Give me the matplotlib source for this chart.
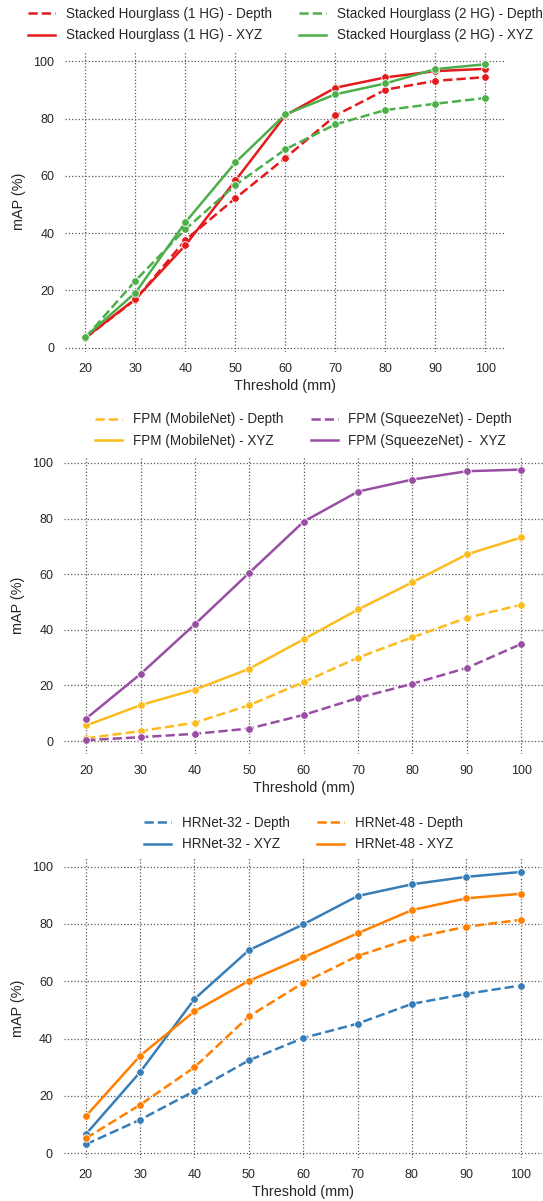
import numpy as np
import matplotlib
matplotlib.use('Agg')
import matplotlib.pyplot as plt
from matplotlib.lines import Line2D

plt.rcParams['font.family'] = ['Liberation Sans', 'DejaVu Sans']
plt.rcParams['text.color'] = '.15'
plt.rcParams['axes.labelcolor'] = '.15'
plt.rcParams['xtick.color'] = '.15'
plt.rcParams['ytick.color'] = '.15'

thresholds = [20, 30, 40, 50, 60, 70, 80, 90, 100]

# panel 1 - stacked hourglass
hg1_depth = [3.4, 16.8, 37.6, 52.2, 66.3, 81.1, 90.1, 93.2, 94.5]
hg1_xyz = [3.5, 17.0, 35.8, 58.4, 81.2, 90.8, 94.4, 96.6, 97.4]
hg2_depth = [3.5, 23.4, 41.4, 56.8, 69.3, 78.0, 83.0, 85.2, 87.2]
hg2_xyz = [3.8, 19.2, 43.8, 64.7, 81.5, 88.5, 92.3, 97.3, 99.0]

# panel 2 - FPM
mob_depth = [1.0, 3.6, 6.6, 12.9, 21.2, 30.0, 37.3, 44.3, 49.0]
mob_xyz = [5.6, 12.9, 18.5, 26.0, 36.6, 47.3, 57.1, 67.1, 73.2]
sqz_depth = [0.3, 1.4, 2.6, 4.5, 9.4, 15.5, 20.6, 26.3, 34.9]
sqz_xyz = [8.1, 24.1, 42.0, 60.5, 78.9, 89.7, 94.0, 97.0, 97.6]

# panel 3 - HRNet
hr32_depth = [3.1, 11.7, 21.7, 32.4, 40.2, 45.2, 52.1, 55.6, 58.5]
hr32_xyz = [6.6, 28.3, 53.8, 70.8, 79.8, 89.7, 93.8, 96.4, 98.1]
hr48_depth = [5.2, 16.9, 30.0, 47.7, 59.4, 68.8, 75.0, 79.0, 81.4]
hr48_xyz = [12.9, 34.0, 49.5, 60.1, 68.3, 76.7, 84.8, 88.9, 90.5]

panels = [
    {'rect': [0.1206, 0.7073, 0.8103, 0.2506], 'leg_y': 0.9999,
     'series': [(hg1_depth, '#e41a1c', '--', 'Stacked Hourglass (1 HG) - Depth'),
                (hg1_xyz, '#e41a1c', '-', 'Stacked Hourglass (1 HG) - XYZ'),
                (hg2_depth, '#4daf4a', '--', 'Stacked Hourglass (2 HG) - Depth'),
                (hg2_xyz, '#4daf4a', '-', 'Stacked Hourglass (2 HG) - XYZ')]},
    {'rect': [0.1186, 0.3724, 0.8814, 0.2479], 'leg_y': 0.6622,
     'series': [(mob_depth, '#fbbc1f', '--', 'FPM (MobileNet) - Depth'),
                (mob_xyz, '#fbbc1f', '-', 'FPM (MobileNet) - XYZ'),
                (sqz_depth, '#984ea3', '--', 'FPM (SqueezeNet) - Depth'),
                (sqz_xyz, '#984ea3', '-', 'FPM (SqueezeNet) -  XYZ')]},
    {'rect': [0.1179, 0.0358, 0.8808, 0.2495], 'leg_y': 0.3263,
     'series': [(hr32_depth, '#377eb8', '--', 'HRNet-32 - Depth'),
                (hr32_xyz, '#377eb8', '-', 'HRNet-32 - XYZ'),
                (hr48_depth, '#ff7f00', '--', 'HRNet-48 - Depth'),
                (hr48_xyz, '#ff7f00', '-', 'HRNet-48 - XYZ')]},
]

fig = plt.figure(figsize=(5.43, 12.01), dpi=100)

for p in panels:
    ax = fig.add_axes(p['rect'])
    handles = []
    for vals, col, ls, lab in p['series']:
        ax.plot(thresholds, vals, color=col, linestyle=ls, linewidth=1.8,
                marker='o', markersize=5.5, markeredgecolor='white',
                markeredgewidth=0.6)
        # legend shows line only, no marker
        handles.append(Line2D([], [], color=col, linestyle=ls, linewidth=1.8, label=lab))
    ax.set_xticks(thresholds)
    ax.set_yticks([0, 20, 40, 60, 80, 100])
    ax.grid(True, linestyle=':', color='0.35', linewidth=0.9)
    ax.set_axisbelow(True)
    for s in ax.spines.values():
        s.set_visible(False)
    ax.tick_params(length=0, pad=8, labelsize=9)
    ax.set_xlabel('Threshold (mm)', fontsize=10.4, labelpad=3)
    ax.set_ylabel('mAP (%)', fontsize=10.4, labelpad=5)
    cx = p['rect'][0] + p['rect'][2] / 2
    ax.legend(handles=handles, loc='upper center', bbox_to_anchor=(cx, p['leg_y']),
              bbox_transform=fig.transFigure, ncol=2, frameon=False,
              fontsize=9.75, labelspacing=0.55, borderpad=0,
              columnspacing=2.0, handletextpad=0.8)

fig.savefig('out.png', dpi=100)
